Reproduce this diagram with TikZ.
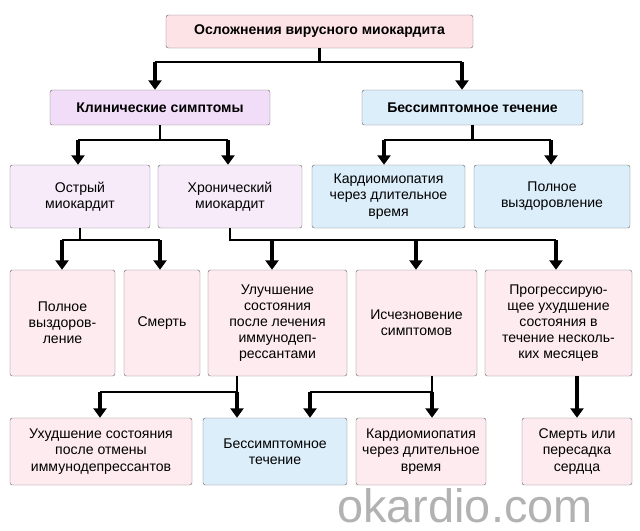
\documentclass[tikz,border=0pt]{standalone}
\usepackage{fontspec}
\setmainfont{Liberation Sans}
\usetikzlibrary{arrows.meta}
\definecolor{pinkbox}{HTML}{FDE3E6}
\definecolor{lilabox}{HTML}{F1DDF7}
\definecolor{bluebox}{HTML}{DCEEFA}
\definecolor{rowbox}{HTML}{FDEBF0}
\tikzset{
  box/.style={draw=black!55, rounded corners=2pt, align=center, inner sep=2pt,
    font=\fontsize{12}{13.8}\selectfont},
  hline/.style={line width=1.8pt},
  arr/.style={line width=3pt, -{Triangle[width=11pt,length=8pt]}}
}
% box: style, name, x1, x2, y1, y2, text
\newcommand\bx[7]{\node[box,#1,minimum width={(#4-#3)*0.03cm},minimum height={(#6-#5)*0.03cm}]
  (#2) at ({(#3+#4)/2},{(#5+#6)/2}) {#7};}
\begin{document}
\begin{tikzpicture}[x=0.03cm,y=-0.03cm]
\useasboundingbox (0,0) rectangle (640,531);

\bx{fill=pinkbox,font=\fontsize{12}{13.8}\selectfont\bfseries}{top}{166}{473}{15}{48}{Осложнения вирусного миокардита}
\bx{fill=lilabox,font=\fontsize{12}{13.8}\selectfont\bfseries}{klin}{50}{270}{90}{125}{Клинические симптомы}
\bx{fill=bluebox,font=\fontsize{12}{13.8}\selectfont\bfseries}{bess}{362}{583}{90}{125}{Бессимптомное течение}

\bx{fill=lilabox!60}{ostr}{10}{150}{165}{228}{Острый\\миокардит}
\bx{fill=lilabox!60}{hron}{158}{302}{165}{228}{Хронический\\миокардит}
\bx{fill=bluebox}{kard}{312}{465}{165}{228}{Кардиомиопатия\\через длительное\\время}
\bx{fill=bluebox}{vyzd}{474}{630}{165}{228}{Полное\\выздоровление}

\bx{fill=rowbox}{poln}{10}{115}{270}{376}{Полное\\выздоров-\\ление}
\bx{fill=rowbox}{smrt}{124}{200}{270}{376}{Смерть}
\bx{fill=rowbox}{uluch}{208}{347}{270}{376}{Улучшение\\состояния\\после лечения\\иммунодеп-\\рессантами}
\bx{fill=rowbox}{ischez}{356}{477}{270}{376}{Исчезновение\\симптомов}
\bx{fill=rowbox}{progr}{485}{632}{270}{376}{Прогрессирую-\\щее ухудшение\\состояния в\\течение несколь-\\ких месяцев}

\bx{fill=rowbox}{uhud}{10}{192}{418}{485}{Ухудшение состояния\\после отмены\\иммунодепрессантов}
\bx{fill=bluebox}{bess2}{203}{347}{418}{485}{Бессимптомное\\течение}
\bx{fill=rowbox}{kard2}{356}{486}{418}{485}{Кардиомиопатия\\через длительное\\время}
\bx{fill=rowbox}{smpr}{522}{632}{418}{485}{Смерть или\\пересадка\\сердца}

\node[text=black!30, font=\fontsize{40}{40}\selectfont] (wm) at (465,506) {okardio.com};

% junctions
\coordinate (j1l) at (155,62);  \coordinate (j1r) at (462,62);
\coordinate (j2l) at (78,140);  \coordinate (j2r) at (228,140);
\coordinate (j3l) at (384,140); \coordinate (j3r) at (551,140);
\coordinate (j4l) at (62,240);  \coordinate (j4r) at (160,240);
\coordinate (j5a) at (272,240); \coordinate (j5b) at (416,240); \coordinate (j5c) at (556,240);
\coordinate (j6l) at (100,392); \coordinate (j6r) at (237,392);
\coordinate (j7l) at (310,392); \coordinate (j7r) at (432,392);

\draw[hline] (top.south) -- (top.south |- j1l) (j1l) -- (j1r);
\draw[arr] (j1l) -- (j1l |- klin.north);
\draw[arr] (j1r) -- (j1r |- bess.north);

\draw[hline] (klin.south) -- (klin.south |- j2l) (j2l) -- (j2r);
\draw[arr] (j2l) -- (j2l |- ostr.north);
\draw[arr] (j2r) -- (j2r |- hron.north);
\draw[hline] (bess.south) -- (bess.south |- j3l) (j3l) -- (j3r);
\draw[arr] (j3l) -- (j3l |- kard.north);
\draw[arr] (j3r) -- (j3r |- vyzd.north);

\draw[hline] (ostr.south) -- (ostr.south |- j4l) (j4l) -- (j4r);
\draw[arr] (j4l) -- (j4l |- poln.north);
\draw[arr] (j4r) -- (j4r |- smrt.north);
\draw[hline] (hron.south) -- (hron.south |- j5a) -- (j5c);
\draw[arr] (j5a) -- (j5a |- uluch.north);
\draw[arr] (j5b) -- (j5b |- ischez.north);
\draw[arr] (j5c) -- (j5c |- progr.north);

\draw[hline] (j6r |- uluch.south) -- (j6r) -- (j6l);
\draw[arr] (j6l) -- (j6l |- uhud.north);
\draw[arr] (j6r) -- (j6r |- bess2.north);
\draw[hline] (j7r |- ischez.south) -- (j7r) -- (j7l);
\draw[arr] (j7l) -- (j7l |- bess2.north);
\draw[arr] (j7r) -- (j7r |- kard2.north);
\draw[arr] (progr.south -| smpr.north) -- (smpr.north);
\end{tikzpicture}
\end{document}
